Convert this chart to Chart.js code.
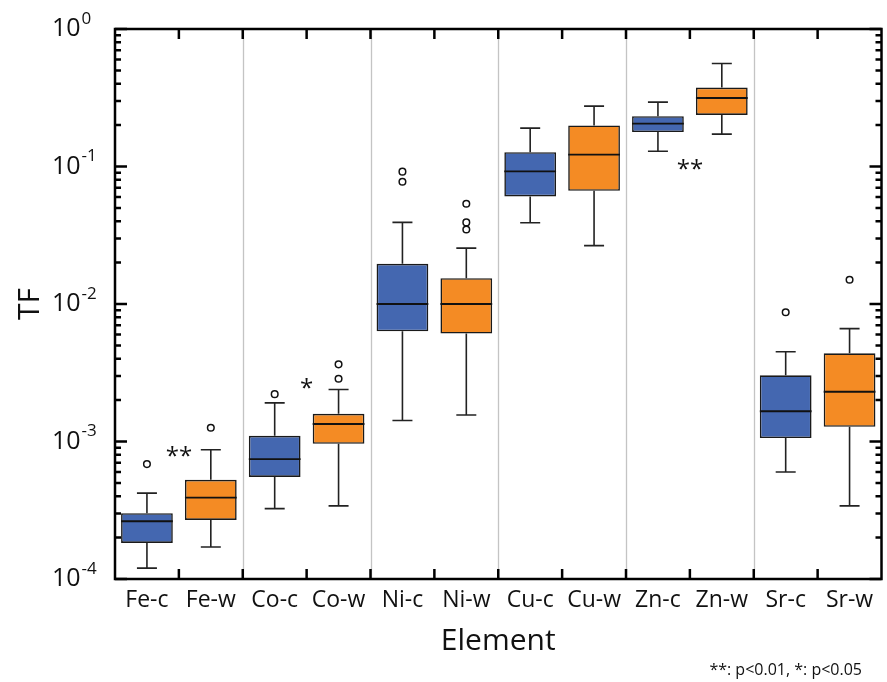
<!DOCTYPE html>
<html>
<head>
<meta charset="utf-8">
<script src="https://cdn.jsdelivr.net/npm/chart.js@4"></script>
<style>
    html, body { margin: 0; padding: 0; background: #fff; }
    #wrap { width: 887px; height: 682px; }
</style>
</head>
<body>
<div id="wrap"><canvas id="tfChart" width="887" height="682"></canvas></div>
<script>
// categories and box statistics
const categories = ["Fe-c", "Fe-w", "Co-c", "Co-w", "Ni-c", "Ni-w", "Cu-c", "Cu-w", "Zn-c", "Zn-w", "Sr-c", "Sr-w"]
const whiskerLow  = [1.20e-4, 1.71e-4, 3.25e-4, 3.40e-4, 1.42e-3, 1.56e-3, 3.90e-2, 2.66e-2, 0.129, 0.172, 6.0e-4, 3.4e-4]
const q1          = [1.83e-4, 2.69e-4, 5.53e-4, 9.62e-4, 6.33e-3, 6.09e-3, 6.06e-2, 6.66e-2, 0.178, 0.237, 1.06e-3, 1.28e-3]
const median      = [2.63e-4, 3.91e-4, 7.44e-4, 1.34e-3, 1.00e-2, 1.00e-2, 9.21e-2, 0.122, 0.205, 0.315, 1.66e-3, 2.30e-3]
const q3          = [3.01e-4, 5.26e-4, 1.10e-3, 1.59e-3, 1.96e-2, 1.54e-2, 0.127, 0.199, 0.232, 0.375, 3.03e-3, 4.38e-3]
const whiskerHigh = [4.21e-4, 8.70e-4, 1.91e-3, 2.39e-3, 3.92e-2, 2.55e-2, 0.190, 0.275, 0.294, 0.561, 4.50e-3, 6.62e-3]
const outliers = [
    [6.85e-4], [1.26e-3], [2.21e-3], [2.86e-3, 3.64e-3],
    [7.75e-2, 9.17e-2], [3.48e-2, 3.92e-2, 5.36e-2],
    [], [], [], [],
    [8.7e-3], [1.5e-2]
]
const yTickValues = [1e-4, 1e-3, 1e-2, 1e-1, 1]

// significance marks: placed between the two boxes of a pair
const sigLabels = ["**", "*", "**"]
const sigPairIndex = [0.5, 2.5, 8.5]
const sigValues = [8.3e-4, 2.6e-3, 0.102]

const boxColors = categories.map((c, i) => i % 2 === 0 ? "#4467b0" : "#f48b24")
const fontFamily = "'Open Sans', 'Noto Sans', sans-serif"

const outlierPoints = []
outliers.forEach((list, i) => {
    list.forEach(v => outlierPoints.push({ x: categories[i], y: v }))
})

const boxPlotPlugin = {
    id: "boxPlot",
    beforeDatasetsDraw(chart) {
        const { ctx, chartArea, scales: { x } } = chart
        ctx.save()
        ctx.strokeStyle = "#c4c4c4"
        ctx.lineWidth = 1.3
        for (let i = 1; i < categories.length - 1; i += 2) {
            const px = Math.round(x.getPixelForValue(i + 0.5)) + 0.5
            ctx.beginPath()
            ctx.moveTo(px, chartArea.top)
            ctx.lineTo(px, chartArea.bottom)
            ctx.stroke()
        }
        ctx.restore()
    },
    afterDatasetsDraw(chart) {
        const { ctx, scales: { x, y } } = chart
        const bars = chart.getDatasetMeta(0).data
        ctx.save()
        ctx.lineWidth = 1.6
        ctx.strokeStyle = "#222"
        categories.forEach((c, i) => {
            const cx = x.getPixelForValue(i)
            const half = bars[i].width / 2
            const cap = 10
            const yLow = y.getPixelForValue(whiskerLow[i])
            const yHigh = y.getPixelForValue(whiskerHigh[i])
            const yQ1 = y.getPixelForValue(q1[i])
            const yQ3 = y.getPixelForValue(q3[i])
            const yMed = y.getPixelForValue(median[i])
            ctx.beginPath()
            ctx.moveTo(cx, yQ3); ctx.lineTo(cx, yHigh)
            ctx.moveTo(cx - cap, yHigh); ctx.lineTo(cx + cap, yHigh)
            ctx.moveTo(cx, yQ1); ctx.lineTo(cx, yLow)
            ctx.moveTo(cx - cap, yLow); ctx.lineTo(cx + cap, yLow)
            ctx.stroke()
            ctx.beginPath()
            ctx.lineWidth = 1.8
            ctx.strokeStyle = "#111"
            ctx.moveTo(cx - half, yMed); ctx.lineTo(cx + half, yMed)
            ctx.stroke()
            ctx.lineWidth = 1.6
            ctx.strokeStyle = "#222"
        })
        ctx.restore()
    },
    afterDraw(chart) {
        const { ctx, chartArea, scales: { x, y } } = chart
        const { left, right, top, bottom } = chartArea
        ctx.save()

        // frame
        ctx.strokeStyle = "#000"
        ctx.lineWidth = 2.5
        ctx.strokeRect(left, top, right - left, bottom - top)

        // x ticks (category boundaries), inward on bottom and top
        ctx.lineWidth = 2.5
        ctx.beginPath()
        for (let i = 0; i < categories.length - 1; i++) {
            const px = x.getPixelForValue(i + 0.5)
            ctx.moveTo(px, bottom); ctx.lineTo(px, bottom - 10)
            ctx.moveTo(px, top); ctx.lineTo(px, top + 10)
        }
        ctx.stroke()

        // y ticks, inward on left and right
        ctx.lineWidth = 2.5
        ctx.beginPath()
        yTickValues.forEach((d, k) => {
            const py = y.getPixelForValue(d)
            ctx.moveTo(left, py); ctx.lineTo(left + 12, py)
            ctx.moveTo(right, py); ctx.lineTo(right - 12, py)
            if (k < yTickValues.length - 1) {
                for (let m = 2; m <= 9; m++) {
                    const pm = y.getPixelForValue(m * d)
                    ctx.moveTo(left, pm); ctx.lineTo(left + 6, pm)
                    ctx.moveTo(right, pm); ctx.lineTo(right - 6, pm)
                }
            }
        })
        ctx.stroke()

        // y tick labels as 10 with superscript exponent
        ctx.fillStyle = "#111"
        yTickValues.forEach(d => {
            const py = y.getPixelForValue(d)
            const exp = Math.round(Math.log10(d))
            ctx.font = `25px ${fontFamily}`
            ctx.textAlign = "left"
            ctx.textBaseline = "middle"
            ctx.fillText("10", 52, py)
            const w = ctx.measureText("10").width
            ctx.font = `17px ${fontFamily}`
            ctx.fillText(String(exp).replace("-", "\u2212").replace("\u2212", "-"), 52 + w + 1, py - 10)
        })

        // axis titles
        ctx.font = `30px ${fontFamily}`
        ctx.textAlign = "center"
        ctx.textBaseline = "middle"
        ctx.fillText("Element", (left + right) / 2, 641)
        ctx.save()
        ctx.translate(30, (top + bottom) / 2)
        ctx.rotate(-Math.PI / 2)
        ctx.fillText("TF", 0, 0)
        ctx.restore()

        // significance marks
        ctx.font = `24px ${fontFamily}`
        ctx.textAlign = "center"
        ctx.textBaseline = "middle"
        sigLabels.forEach((s, k) => {
            ctx.fillText(s, x.getPixelForValue(sigPairIndex[k]), y.getPixelForValue(sigValues[k]) + 5)
        })

        // footnote
        ctx.font = `16px ${fontFamily}`
        ctx.textAlign = "right"
        ctx.textBaseline = "alphabetic"
        ctx.fillText("**: p<0.01, *: p<0.05", 862, 675)

        ctx.restore()
    }
}

const ctx = document.getElementById("tfChart")

new Chart(ctx, {
    type: "bar",
    data: {
        labels: categories,
        datasets: [
            {
                type: "bar",
                label: "TF",
                data: q1.map((v, i) => [v, q3[i]]),
                backgroundColor: boxColors,
                borderColor: "#1a1a1a",
                borderWidth: 1.6,
                borderSkipped: false,
                barPercentage: 0.81,
                categoryPercentage: 1.0,
                order: 2
            },
            {
                type: "line",
                label: "outliers",
                data: outlierPoints,
                showLine: false,
                pointStyle: "circle",
                pointRadius: 3.3,
                pointBackgroundColor: "#fff",
                pointBorderColor: "#111",
                pointBorderWidth: 1.5,
                order: 1
            }
        ]
    },
    options: {
        responsive: false,
        animation: false,
        layout: {
            padding: { left: 0, right: 2, top: 29, bottom: 0 }
        },
        plugins: {
            legend: { display: false },
            tooltip: { enabled: false }
        },
        scales: {
            x: {
                type: "category",
                offset: true,
                grid: { display: false, drawTicks: false },
                border: { display: false },
                ticks: {
                    color: "#111",
                    padding: 8,
                    font: { family: fontFamily, size: 23 }
                },
                afterFit(scale) { scale.height = 103 }
            },
            y: {
                type: "logarithmic",
                min: 1e-4,
                max: 1,
                grid: { display: false, drawTicks: false },
                border: { display: false },
                ticks: { display: false },
                afterFit(scale) { scale.width = 115 }
            }
        }
    },
    plugins: [boxPlotPlugin]
})
</script>
</body>
</html>
